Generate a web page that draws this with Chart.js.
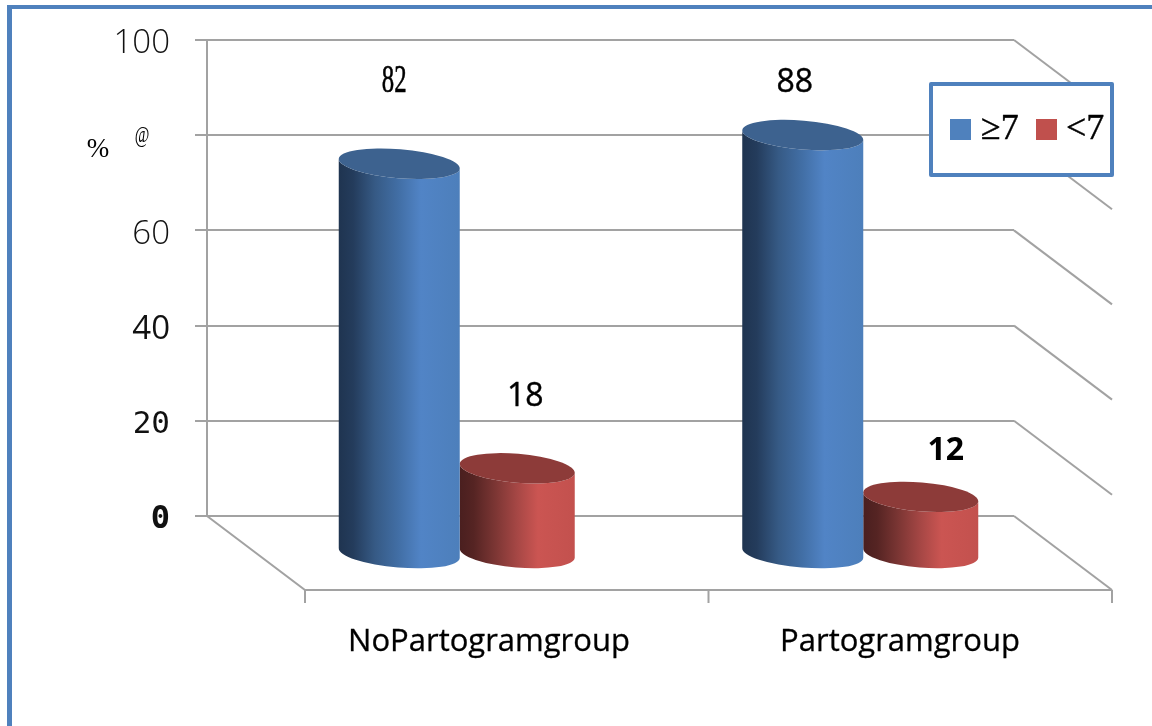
<!DOCTYPE html>
<html>
<head>
<meta charset="utf-8">
<title>Apgar score by group</title>
<script src="https://cdn.jsdelivr.net/npm/chart.js@4"></script>
<style>
  html, body { margin: 0; padding: 0; background: #fff; }
  canvas { display: block; }
</style>
</head>
<body>
<canvas id="chart" width="1152" height="726"></canvas>
<script>
const categories = ['NoPartogramgroup', 'Partogramgroup'];
const seriesNames = ['≥7', '<7'];
const atLeastSeven = [82, 88];
const belowSeven = [18, 12];
const yTickLabels = ['0', '20', '40', '60', '@', '100'];
const yUnit = '%';

const GRID = '#a2a2a2';
const FRAME = '#4f81bd';
const DEPTH_X = 98, DEPTH_Y = 74;      // floor depth, back wall to front edge
const MID_X = 51, MID_Y = 38;          // cylinders stand mid-way across the floor
const TILT = 4.7 * Math.PI / 180;      // slant of the cylinder ends
const END_RY = 14.5;

const looks = [
  { top: '#3d628f',
    stops: [[0, '#1f3450'], [0.12, '#243c5c'], [0.3, '#365a85'], [0.5, '#426fa6'], [0.68, '#5184c6'], [1, '#4d7fbb']] },
  { top: '#8d3b39',
    stops: [[0, '#4a1f1f'], [0.12, '#552423'], [0.3, '#7a3533'], [0.5, '#a64745'], [0.68, '#cb5552'], [1, '#c3514e']] }
];

// Text styling for the value labels: [dataset][category]
const valueStyles = [
  [ { font: '40px "Liberation Serif"', squeeze: 0.62, dx: -5, y: 81, outline: 0.6 },
    { font: '32px "Open Sans"', squeeze: 1, dx: -8, y: 83, outline: 0.4 } ],
  [ { font: '32px "Open Sans"', squeeze: 1, dx: 8, y: 397, outline: 0.4 },
    { font: 'bold 32px "Open Sans"', squeeze: 1, dx: 25, y: 451, outline: 0 } ]
];
const categoryLabelX = [489, 900];

function tickFont(value) {
  if (value === 0) return { family: 'DejaVu Sans Mono', size: 32, weight: 'bold' };
  if (value === 20) return { family: 'DejaVu Sans Mono', size: 31 };
  if (value === 40) return { family: 'Open Sans', size: 33 };
  return { family: 'Open Sans', size: 33, weight: 300 };
}

function drawCylinder(ctx, bar, look) {
  const cx = bar.x + MID_X;
  const rx = bar.width / 2 / Math.cos(TILT);
  const topY = bar.y + MID_Y;
  const baseY = bar.base + MID_Y;
  const left = cx - bar.width / 2, right = cx + bar.width / 2;

  const grad = ctx.createLinearGradient(left, 0, right, 0);
  look.stops.forEach(s => grad.addColorStop(s[0], s[1]));

  ctx.beginPath();
  ctx.ellipse(cx, baseY, rx, END_RY, TILT, 0, Math.PI, false);
  ctx.ellipse(cx, topY, rx, END_RY, TILT, Math.PI, 0, true);
  ctx.closePath();
  ctx.fillStyle = grad;
  ctx.fill();

  ctx.beginPath();
  ctx.ellipse(cx, topY, rx, END_RY, TILT, 0, Math.PI * 2);
  ctx.fillStyle = look.top;
  ctx.fill();
}

const perspectivePlugin = {
  id: 'perspective',
  beforeDraw(chart) {
    const { ctx, width } = chart;
    ctx.save();
    ctx.fillStyle = '#fff';
    ctx.fillRect(0, 0, width, chart.height);
    ctx.fillStyle = FRAME;
    ctx.fillRect(7, 5, width - 7, 4);
    ctx.fillRect(7, 5, 5, chart.height - 5);
    ctx.restore();
  },
  beforeDatasetsDraw(chart) {
    const { ctx, chartArea: a, scales: { y } } = chart;
    ctx.save();
    ctx.strokeStyle = GRID;
    ctx.lineWidth = 2;
    y.ticks.forEach(t => {
      const py = y.getPixelForValue(t.value);
      ctx.beginPath();
      ctx.moveTo(a.right, py);
      ctx.lineTo(a.right + DEPTH_X, py + DEPTH_Y);
      ctx.stroke();
    });
    const base = y.getPixelForValue(0);
    ctx.beginPath();
    ctx.moveTo(a.left, base);
    ctx.lineTo(a.left + DEPTH_X, base + DEPTH_Y);
    ctx.lineTo(a.right + DEPTH_X, base + DEPTH_Y);
    ctx.stroke();
    const floorTicks = [a.left, (a.left + a.right) / 2, a.right];
    floorTicks.forEach(px => {
      ctx.beginPath();
      ctx.moveTo(px + DEPTH_X, base + DEPTH_Y);
      ctx.lineTo(px + DEPTH_X, base + DEPTH_Y + 13);
      ctx.stroke();
    });
    ctx.restore();
  },
  beforeDatasetDraw() {
    return false;      // bars are painted as cylinders below
  },
  afterDatasetsDraw(chart) {
    const { ctx, scales: { y } } = chart;
    ctx.save();
    [1, 0].forEach(d => {
      chart.getDatasetMeta(d).data.forEach(bar => drawCylinder(ctx, bar, looks[d]));
    });

    ctx.fillStyle = '#000';
    ctx.strokeStyle = '#000';
    ctx.textAlign = 'center';
    ctx.textBaseline = 'middle';
    chart.data.datasets.forEach((ds, d) => {
      chart.getDatasetMeta(d).data.forEach((bar, i) => {
        const s = valueStyles[d][i];
        const text = String(ds.data[i]);
        ctx.save();
        ctx.font = s.font;
        ctx.translate(bar.x + MID_X + s.dx, s.y);
        ctx.scale(s.squeeze, 1);
        ctx.fillText(text, 0, 0);
        if (s.outline) {
          ctx.lineWidth = s.outline;
          ctx.strokeText(text, 0, 0);
        }
        ctx.restore();
      });
    });

    ctx.font = '31px "Open Sans"';
    ctx.lineWidth = 0.3;
    chart.data.labels.forEach((label, i) => {
      ctx.fillText(label, categoryLabelX[i], 642);
      ctx.strokeText(label, categoryLabelX[i], 642);
    });

    ctx.font = '27px "Liberation Serif"';
    ctx.fillText(yUnit, 98, 150);

    // The 80 tick carries a narrow glyph, set by hand so it can be condensed
    ctx.save();
    ctx.font = '24px "Liberation Serif"';
    ctx.translate(142, y.getPixelForValue(80) + 1);
    ctx.scale(0.66, 1);
    ctx.fillText(yTickLabels[4], 0, 0);
    ctx.restore();
    ctx.restore();
  },
  afterDraw(chart) {
    const { ctx } = chart;
    ctx.save();
    ctx.fillStyle = '#fff';
    ctx.fillRect(931, 84, 181, 91);
    ctx.strokeStyle = FRAME;
    ctx.lineWidth = 4;
    ctx.lineJoin = 'round';
    ctx.strokeRect(931, 84, 181, 91);

    const swatchX = [950, 1036], textX = [981, 1066];
    ctx.font = '36px "Liberation Serif"';
    ctx.textAlign = 'left';
    ctx.textBaseline = 'alphabetic';
    ctx.strokeStyle = '#000';
    ctx.lineWidth = 0.4;
    chart.data.datasets.forEach((ds, d) => {
      ctx.fillStyle = ds.backgroundColor;
      ctx.fillRect(swatchX[d], 119, 21, 21);
      ctx.fillStyle = '#000';
      ctx.fillText(ds.label, textX[d], 139);
      ctx.strokeText(ds.label, textX[d], 139);
    });
    ctx.restore();
  }
};

new Chart(document.getElementById('chart'), {
  type: 'bar',
  plugins: [perspectivePlugin],
  data: {
    labels: categories,
    datasets: [
      { label: seriesNames[0], data: atLeastSeven, backgroundColor: '#4f81bd', barThickness: 121 },
      { label: seriesNames[1], data: belowSeven, backgroundColor: '#c0504d', barThickness: 115 }
    ]
  },
  options: {
    responsive: false,
    animation: false,
    layout: { padding: { left: 0, top: 40, right: 138, bottom: 210 } },
    plugins: { legend: { display: false }, tooltip: { enabled: false } },
    scales: {
      x: { display: false },
      y: {
        min: 0,
        max: 100,
        afterFit(scale) {
          scale.width = 207;
          scale.paddingTop = 0;
          scale.paddingBottom = 0;
        },
        border: { color: GRID, width: 2 },
        grid: { color: GRID, lineWidth: 2, tickLength: 12 },
        ticks: {
          stepSize: 20,
          padding: 25,
          labelOffset: 4,
          color: '#111',
          font: c => tickFont(c.tick ? c.tick.value : 100),
          callback: v => (v === 80 ? '' : yTickLabels[v / 20])
        }
      }
    }
  }
});
</script>
</body>
</html>
